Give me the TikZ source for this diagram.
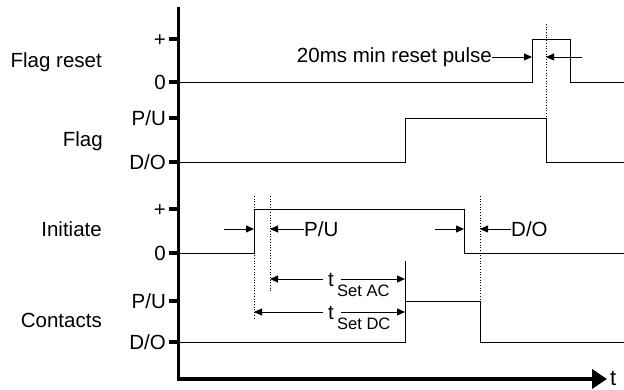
\documentclass[tikz,border=0pt]{standalone}
\usepackage{fontspec}
\setmainfont{Liberation Sans}
\usetikzlibrary{arrows.meta}
\begin{document}
\begin{tikzpicture}[x=1pt,y=-1pt,
  lbl/.style={inner sep=0pt,anchor=base east,font=\fontsize{20.5}{24}\selectfont},
  txt/.style={inner sep=0pt,font=\fontsize{20.5}{24}\selectfont},
  sub/.style={inner sep=0pt,anchor=base west,font=\fontsize{16.5}{19}\selectfont},
  axis/.style={line width=3.8pt,-{Triangle[length=15pt,width=19pt]}},
  tick/.style={line width=3.6pt},
  sig/.style={line width=0.9pt},
  dim/.style={line width=0.8pt,-{Triangle[length=8pt,width=7pt]}},
  guide/.style={line width=0.7pt,dotted}]
\useasboundingbox (0,0) rectangle (624,390);
% axes
\coordinate (top) at (178.5,7);
\coordinate (corner) at (178.5,379);
\coordinate (tip) at (607,379);
\draw[axis] (top) -- (corner) -- (tip);
\node[inner sep=0pt,anchor=base west,font=\fontsize{22}{26}\selectfont] (tlab) at (610,385) {t};
% ticks and tick labels
\foreach \yy/\tl/\nm in {39/+/a,82/0/b,118/P\slash U/c,162/D\slash O/d,209/+/e,253/0/f,301/P\slash U/g,342/D\slash O/h}{
  \draw[tick] (169,\yy) -- (178,\yy);
  \node[lbl] (tk\nm) at (166,\yy+7.4) {\tl};
}
% signal names
\node[lbl] (nfr) at (102,68) {Flag reset};
\node[lbl] (nfl) at (103,147) {Flag};
\node[lbl] (nin) at (102,237) {Initiate};
\node[lbl] (nco) at (102,327) {Contacts};
% signals
\draw[sig] (178,82) -- (532,82) -- (532,39) -- (570,39) -- (570,82) -- (624,82);
\draw[sig] (178,162) -- (405,162) -- (405,118) -- (546,118) -- (546,162) -- (624,162);
\draw[sig] (178,253) -- (254,253) -- (254,209) -- (464,209) -- (464,253) -- (624,253);
\draw[sig] (178,342) -- (405,342) -- (405,301) -- (480,301) -- (480,342) -- (624,342);
\draw[sig] (405,261) -- (405,301);
% dotted guides
\draw[guide] (546,24) -- (546,162);
\draw[guide] (254,196) -- (254,319);
\draw[guide] (270,196) -- (270,292);
\draw[guide] (480,196) -- (480,301);
% reset pulse dimension
\node[txt,anchor=east] (rp) at (492,57) {20ms min reset pulse};
\coordinate (rpa) at (532,57);
\coordinate (rpb) at (582,57);
\coordinate (rpc) at (546,57);
\draw[dim] (rp.east) -- (rpa);
\draw[dim] (rpb) -- (rpc);
% initiate dimensions
\coordinate (ia1) at (224,229); \coordinate (ia2) at (254,229);
\coordinate (ib2) at (270,229);
\node[txt,anchor=west] (pu) at (304,229) {P/U};
\draw[dim] (ia1) -- (ia2);
\draw[dim] (pu.west) -- (ib2);
\coordinate (ic1) at (435,229); \coordinate (ic2) at (464,229);
\coordinate (id2) at (480,229);
\node[txt,anchor=west] (do) at (511,229) {D/O};
\draw[dim] (ic1) -- (ic2);
\draw[dim] (do.west) -- (id2);
% t set AC
\node[txt,anchor=base west] (tac) at (328,287) {t};
\node[sub] (sac) at (337,297) {Set AC};
\coordinate (ac1) at (270,279); \coordinate (ac2) at (405,279);
\coordinate (ac3) at (323,279); \coordinate (ac4) at (341,279);
\draw[dim] (ac3) -- (ac1);
\draw[dim] (ac4) -- (ac2);
% t set DC
\node[txt,anchor=base west] (tdc) at (328,319) {t};
\node[sub] (sdc) at (337,329) {Set DC};
\coordinate (dc1) at (254,312); \coordinate (dc2) at (405,312);
\coordinate (dc3) at (323,312); \coordinate (dc4) at (341,312);
\draw[dim] (dc3) -- (dc1);
\draw[dim] (dc4) -- (dc2);
\end{tikzpicture}
\end{document}
